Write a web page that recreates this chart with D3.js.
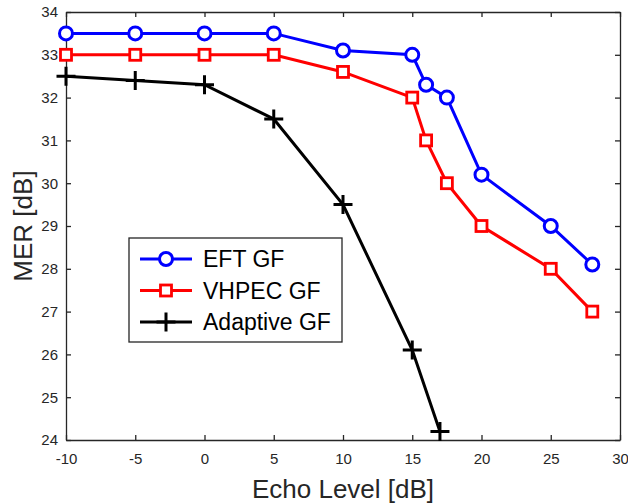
<!DOCTYPE html>
<html><head><meta charset="utf-8">
<script src="https://cdn.jsdelivr.net/npm/d3@7"></script>
<style>body{margin:0;background:#fff}</style>
</head><body><svg id="c" width="628" height="504"></svg>
<script>
const eftX = [-10,-5,0,5,10,15,16,17.5,20,25,28];
const eftY = [33.5,33.5,33.5,33.5,33.1,33.0,32.3,32.0,30.2,29.0,28.1];
const vhpecX = [-10,-5,0,5,10,15,16,17.5,20,25,28];
const vhpecY = [33,33,33,33,32.6,32.0,31.0,30.0,29.0,28.0,27.0];
const adaptX = [-10,-5,0,5,10,15,17];
const adaptY = [32.5,32.4,32.3,31.5,29.5,26.1,24.2];
const xTicks = [-10,-5,0,5,10,15,20,25,30];
const yTicks = [24,25,26,27,28,29,30,31,32,33,34];
const seriesNames = ["EFT GF","VHPEC GF","Adaptive GF"];

const svg = d3.select("#c");
const L=66,R=620,T=12,B=440;
const x = d3.scaleLinear().domain([-10,30]).range([L,R]);
const y = d3.scaleLinear().domain([24,34]).range([B,T]);
const axc="#262626", font="Liberation Sans, Arial, sans-serif";
const fmt = d => String(d);

const g = svg.append("g");
const xb = g.append("g").attr("transform",`translate(0,${B})`).call(d3.axisBottom(x).tickValues(xTicks).tickFormat(fmt).tickSizeInner(-5).tickSizeOuter(0).tickPadding(13));
const xt = g.append("g").attr("transform",`translate(0,${T})`).call(d3.axisTop(x).tickValues(xTicks).tickSizeInner(-5).tickSizeOuter(0).tickFormat(""));
const yl = g.append("g").attr("transform",`translate(${L},0)`).call(d3.axisLeft(y).tickValues(yTicks).tickFormat(fmt).tickSizeInner(-5).tickSizeOuter(0).tickPadding(8));
const yr = g.append("g").attr("transform",`translate(${R},0)`).call(d3.axisRight(y).tickValues(yTicks).tickSizeInner(-5).tickSizeOuter(0).tickFormat(""));
[xb,xt,yl,yr].forEach(a=>{
  a.selectAll("path").attr("stroke",axc).attr("stroke-width",1.3);
  a.selectAll("line").attr("stroke",axc).attr("stroke-width",1.3);
  a.selectAll("text").attr("fill",axc).style("font-family",font).style("font-size","15px");
});

const plot = svg.append("g");
function drawSeries(xs,ys,color,marker){
  const pts = xs.map((v,i)=>[v,ys[i]]);
  plot.append("path").datum(pts)
    .attr("d",d3.line().x(d=>x(d[0])).y(d=>y(d[1])))
    .attr("fill","none").attr("stroke",color).attr("stroke-width",3);
  pts.forEach(d=>drawMarker(plot,x(d[0]),y(d[1]),color,marker));
}
function drawMarker(sel,cx,cy,color,marker){
  if(marker==="circle") sel.append("circle").attr("cx",cx).attr("cy",cy).attr("r",6.5).attr("fill","#fff").attr("stroke",color).attr("stroke-width",3);
  else if(marker==="square") sel.append("rect").attr("x",cx-5.5).attr("y",cy-5.5).attr("width",11).attr("height",11).attr("fill","#fff").attr("stroke",color).attr("stroke-width",2.8);
  else sel.append("path").attr("d",`M${cx-9.5},${cy}H${cx+9.5}M${cx},${cy-9.5}V${cy+9.5}`).attr("stroke",color).attr("stroke-width",3);
}
drawSeries(eftX,eftY,"#0000ff","circle");
drawSeries(vhpecX,vhpecY,"#ff0000","square");
drawSeries(adaptX,adaptY,"#000000","plus");

// legend
const lg = svg.append("g");
lg.append("rect").attr("x",129).attr("y",238).attr("width",213).attr("height",104).attr("fill","#fff").attr("stroke",axc).attr("stroke-width",1.3);
const lc=["#0000ff","#ff0000","#000000"], lm=["circle","square","plus"], ly=[259,290.5,322];
seriesNames.forEach((n,i)=>{
  lg.append("line").attr("x1",140).attr("x2",192).attr("y1",ly[i]).attr("y2",ly[i]).attr("stroke",lc[i]).attr("stroke-width",3);
  drawMarker(lg,166,ly[i],lc[i],lm[i]);
  lg.append("text").attr("x",203).attr("y",ly[i]).attr("dy","0.36em").text(n)
    .style("font-family",font).style("font-size","23px").attr("fill","#000");
});

svg.append("text").attr("x",(L+R)/2).attr("y",498).attr("text-anchor","middle").text("Echo Level [dB]")
  .style("font-family",font).style("font-size","26px").attr("fill",axc);
svg.append("text").attr("transform",`translate(32,${(T+B)/2}) rotate(-90)`).attr("text-anchor","middle").text("MER [dB]")
  .style("font-family",font).style("font-size","26px").attr("fill",axc);
</script></body></html>
